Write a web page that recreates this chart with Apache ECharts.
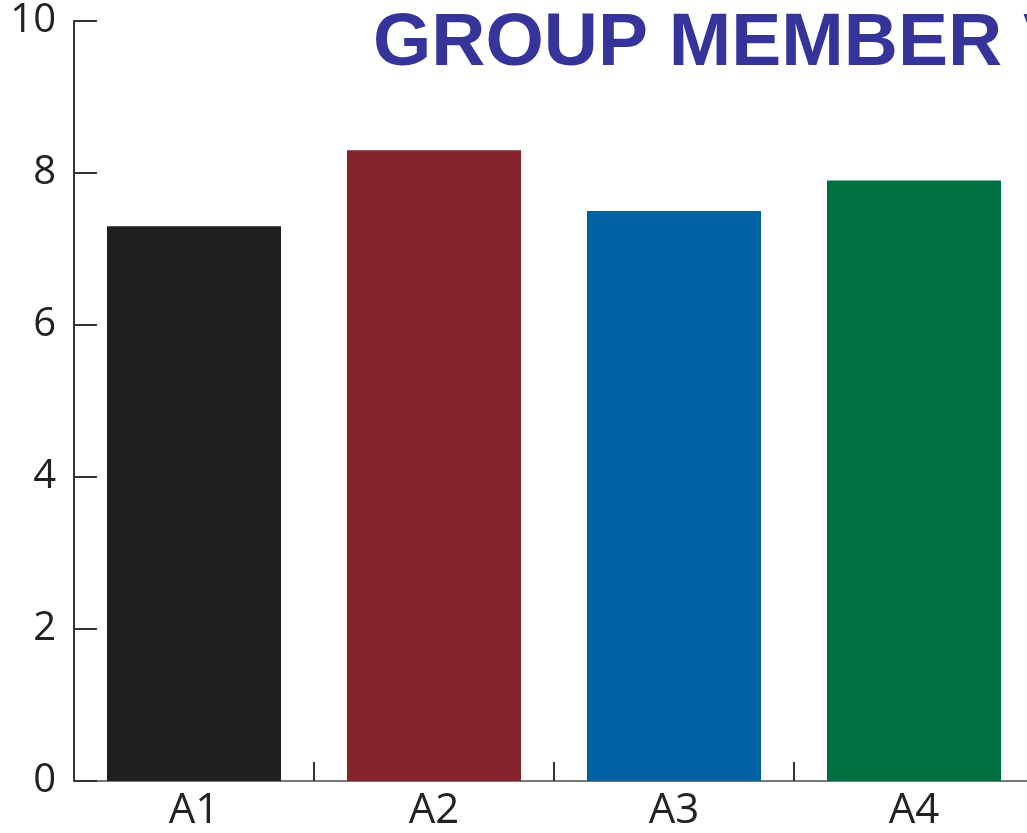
<!DOCTYPE html>
<html>
<head>
<meta charset="utf-8">
<script src="https://cdn.jsdelivr.net/npm/echarts@6/dist/echarts.min.js"></script>
<style>
html,body{margin:0;padding:0;background:#fff;}
#chart{width:1027px;height:833px;}
</style>
</head>
<body>
<div id="chart"></div>
<script>
var titleText = 'GROUP MEMBER VALUES';
var categories = ['A1', 'A2', 'A3', 'A4'];
var values = [7.3, 8.3, 7.5, 7.9];
var barColors = ['#202020', '#85252b', '#0061a3', '#006f41'];
var yMin = 0, yMax = 10, yStep = 2;

var chart = echarts.init(document.getElementById('chart'));
chart.setOption({
  animation: false,
  backgroundColor: '#ffffff',
  graphic: [{
    type: 'text',
    x: 373,
    y: 7,
    style: {
      text: titleText,
      font: 'bold 75px "Liberation Sans", Arial, sans-serif',
      fill: '#35349a',
      verticalAlign: 'top'
    }
  }],
  grid: { left: 74, top: 21, width: 960, bottom: 52, containLabel: false, outerBoundsMode: 'none' },
  xAxis: {
    type: 'category',
    data: categories,
    axisLine: { show: true, lineStyle: { color: '#777777', width: 2 } },
    axisTick: { show: true, inside: true, length: 19, lineStyle: { color: '#333333', width: 2 } },
    axisLabel: { color: '#222222', fontSize: 42, fontFamily: '"Open Sans", "Noto Sans", sans-serif', margin: 9 }
  },
  yAxis: {
    type: 'value',
    min: yMin,
    max: yMax,
    interval: yStep,
    splitLine: { show: false },
    axisLine: { show: true, lineStyle: { color: '#333333', width: 2 } },
    axisTick: { show: true, inside: true, length: 23, lineStyle: { color: '#333333', width: 2 } },
    axisLabel: { color: '#222222', fontSize: 40, fontFamily: '"Open Sans", "Noto Sans", sans-serif', margin: 18 }
  },
  series: [{
    type: 'bar',
    barWidth: '72.5%',
    data: values.map(function (v, i) { return { value: v, itemStyle: { color: barColors[i] } }; })
  }]
});
</script>
</body>
</html>
